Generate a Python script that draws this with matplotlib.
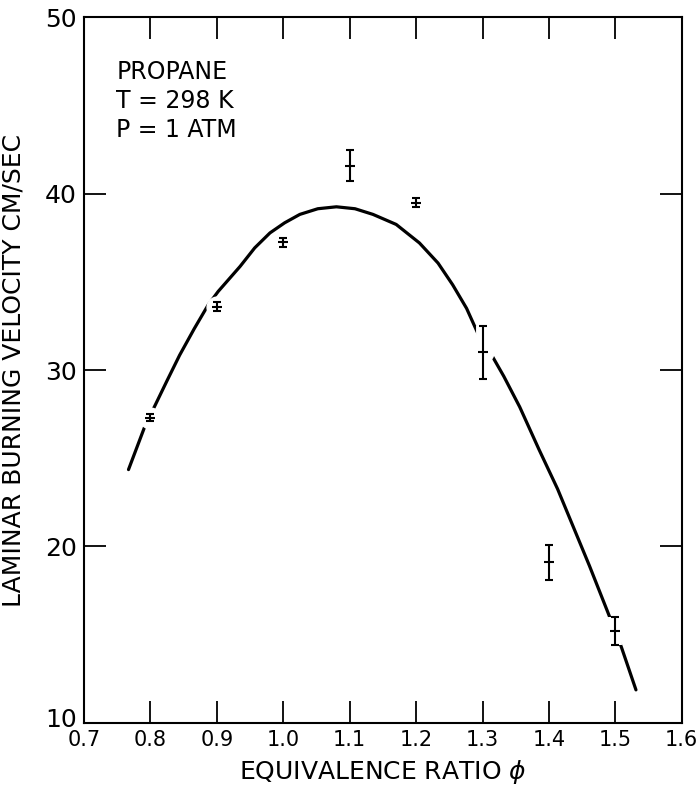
import matplotlib
matplotlib.use("Agg")
import matplotlib.pyplot as plt
from matplotlib.transforms import ScaledTranslation

# measured points (equivalence ratio, velocity, half error)
phi = [0.8, 0.9, 1.0, 1.1, 1.2, 1.3, 1.4, 1.5]
vel = [27.3, 33.6, 37.25, 41.6, 39.5, 31.0, 19.1, 15.2]
err = [0.2, 0.25, 0.25, 0.9, 0.25, 1.5, 1.0, 0.8]

# hand drawn fit curve
curve_phi = [0.767, 0.792, 0.807, 0.825, 0.844, 0.866, 0.887, 0.902, 0.935, 0.957,
             0.980, 1.002, 1.025, 1.052, 1.080, 1.108, 1.135, 1.170, 1.205, 1.233,
             1.255, 1.276, 1.293, 1.308, 1.332, 1.356, 1.385, 1.413, 1.461, 1.488,
             1.509, 1.531]
curve_vel = [24.36, 26.85, 28.0, 29.4, 30.85, 32.35, 33.7, 34.46, 35.88, 36.93,
             37.78, 38.35, 38.83, 39.15, 39.26, 39.15, 38.83, 38.26, 37.21, 36.07,
             34.84, 33.5, 32.08, 31.23, 29.65, 27.91, 25.5, 23.26, 18.9, 16.33,
             14.3, 11.87]

xticks = [0.7, 0.8, 0.9, 1.0, 1.1, 1.2, 1.3, 1.4, 1.5, 1.6]
yticks = [10, 20, 30, 40, 50]

fig = plt.figure(figsize=(7, 7.9), dpi=100)
ax = fig.add_axes([0.12, 0.085, 0.854, 0.893])

ax.plot(curve_phi, curve_vel, color="black", lw=2.3, zorder=1,
        solid_joinstyle="round", solid_capstyle="round")

# white underlay so the curve breaks around the error bars
ax.plot(phi, vel, "o", color="white", ms=15, zorder=2)
ax.errorbar(phi, vel, yerr=err, fmt="none", ecolor="white", elinewidth=10,
            capsize=0, zorder=2)
ax.errorbar(phi, vel, yerr=err, fmt="_", color="black", ms=7, mew=1.5,
            ecolor="black", elinewidth=1.5, capsize=3, capthick=1.5, zorder=3)

ax.set_xlim(0.7, 1.6)
ax.set_ylim(10, 50)
ax.set_xticks(xticks)
ax.set_xticklabels(["%.1f" % t for t in xticks])
ax.set_yticks(yticks)
ax.set_yticklabels([str(t) for t in yticks])

ax.tick_params(direction="in", length=16, width=1.3, top=True, right=True)
ax.tick_params(axis="x", pad=5, labelsize=15)
ax.tick_params(axis="y", pad=5, labelsize=18)
for s in ax.spines.values():
    s.set_linewidth(1.5)

# lift the bottom "10" a little so it clears the "0.7"
lab10 = ax.get_yticklabels()[0]
lab10.set_transform(lab10.get_transform() + ScaledTranslation(0, 4 / 72, fig.dpi_scale_trans))

ax.set_xlabel("EQUIVALENCE RATIO $\\phi$", fontsize=18, labelpad=6)
ax.set_ylabel("LAMINAR BURNING VELOCITY CM/SEC", fontsize=18, labelpad=14)

ax.text(0.054, 0.94, "PROPANE\nT = 298 K\nP = 1 ATM", transform=ax.transAxes,
        fontsize=17, va="top", ha="left", linespacing=1.27)

plt.savefig("out.png", dpi=100)
